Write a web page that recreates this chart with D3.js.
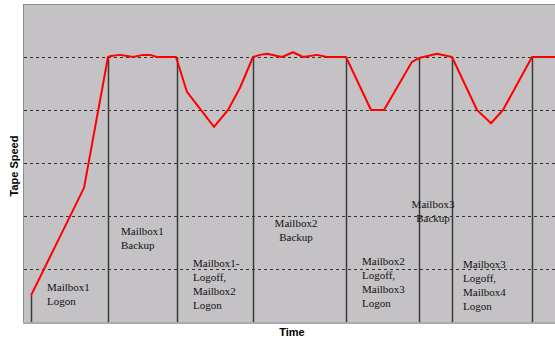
<!DOCTYPE html>
<html>
<head>
<meta charset="utf-8">
<script src="https://cdn.jsdelivr.net/npm/d3@7"></script>
<style>
  body { margin: 0; background: #fff; }
  svg { display: block; }
</style>
</head>
<body>
<svg id="chart" width="555" height="341"></svg>
<script>
// tape speed trace (time units, speed units)
const times  = [8, 61, 85, 88, 97, 104, 110, 120, 127, 134, 153, 164, 191, 205, 217, 230, 237, 244, 259, 270, 280, 294, 304, 323, 348, 361, 389, 396, 414, 429, 454, 468, 480, 509, 532];
const speeds = [0.5, 2.53, 5.0, 5.02, 5.04, 5.02, 5.0, 5.04, 5.04, 5.0, 5.0, 4.34, 3.68, 4.0, 4.42, 5.0, 5.04, 5.06, 5.0, 5.09, 5.0, 5.04, 5.0, 5.0, 4.0, 4.0, 4.91, 4.98, 5.06, 5.0, 4.0, 3.75, 4.0, 5.0, 5.0];

// event markers (time, speed where the marker meets the trace)
const eventTimes  = [8, 85, 154, 230, 323, 396, 429, 509];
const eventSpeeds = [0.5, 5, 5, 5, 5, 4.98, 5, 5];

// horizontal grid levels
const gridLevels = [1, 2, 3, 4, 5];

// annotations: time, speed of first baseline, anchor, lines
const labelTimes  = [24, 98, 170, 273, 339, 410, 440];
const labelSpeeds = [0.58, 1.64, 1.04, 1.79, 1.07, 2.15, 1.02];
const labelAnchors = ["start", "start", "start", "middle", "start", "middle", "start"];
const labelLines = [
  ["Mailbox1", "Logon"],
  ["Mailbox1", "Backup"],
  ["Mailbox1-", "Logoff,", "Mailbox2", "Logon"],
  ["Mailbox2", "Backup"],
  ["Mailbox2", "Logoff,", "Mailbox3", "Logon"],
  ["Mailbox3", "Backup"],
  ["Mailbox3", "Logoff,", "Mailbox4", "Logon"]
];

const svg = d3.select("#chart");
const plotLeft = 23, plotTop = 4, plotRight = 555, plotBottom = 322;

let x = d3.scaleLinear().domain([0, 532]).range([plotLeft, plotRight]);
let y = d3.scaleLinear().domain([0, 6]).range([plotBottom, plotTop]);

// plot background
svg.append("rect")
  .attr("x", plotLeft).attr("y", plotTop)
  .attr("width", plotRight - plotLeft).attr("height", plotBottom - plotTop)
  .attr("fill", "#c4c2c5");

// borders
svg.append("line").attr("x1", plotLeft + 0.5).attr("x2", plotLeft + 0.5).attr("y1", plotTop).attr("y2", plotBottom)
  .attr("stroke", "#8c8c8c").attr("stroke-width", 1);
svg.append("line").attr("x1", plotLeft).attr("x2", plotRight).attr("y1", plotTop + 0.5).attr("y2", plotTop + 0.5)
  .attr("stroke", "#8c8c8c").attr("stroke-width", 1);
svg.append("line").attr("x1", plotLeft).attr("x2", plotRight).attr("y1", plotBottom + 1).attr("y2", plotBottom + 1)
  .attr("stroke", "#a9a9a9").attr("stroke-width", 2);

// dashed grid
svg.append("g").selectAll("line").data(gridLevels).enter().append("line")
  .attr("x1", plotLeft + 1).attr("x2", plotRight)
  .attr("y1", d => Math.round(y(d)) + 0.5)
  .attr("y2", d => Math.round(y(d)) + 0.5)
  .attr("stroke", "#333")
  .attr("stroke-dasharray", "3,3");

// event lines, from the trace down to the floor
svg.append("g").selectAll("line").data(eventTimes).enter().append("line")
  .attr("x1", d => Math.round(x(d)) + 0.5)
  .attr("x2", d => Math.round(x(d)) + 0.5)
  .attr("y1", (d, i) => y(eventSpeeds[i]))
  .attr("y2", plotBottom)
  .attr("stroke", "#3a3a3a")
  .attr("stroke-width", 1.5);

// tape speed line
let points = times.map((t, i) => [t, speeds[i]]);
let line = d3.line().x(d => x(d[0])).y(d => y(d[1]));
svg.append("path")
  .datum(points)
  .attr("d", line)
  .attr("fill", "none")
  .attr("stroke", "#ff0000")
  .attr("stroke-width", 2)
  .attr("stroke-linejoin", "round");

// annotations
labelLines.forEach(function (lines, i) {
  let t = svg.append("text")
    .attr("x", x(labelTimes[i]))
    .attr("y", y(labelSpeeds[i]))
    .attr("text-anchor", labelAnchors[i])
    .style("font-family", "'Liberation Serif', 'DejaVu Serif', serif")
    .style("font-size", "11px")
    .attr("fill", "#111");
  lines.forEach(function (s, j) {
    t.append("tspan")
      .attr("x", x(labelTimes[i]))
      .attr("dy", j == 0 ? 0 : 14)
      .text(s);
  });
});

// axis titles
svg.append("text")
  .attr("transform", "translate(18," + 166 + ") rotate(-90)")
  .attr("text-anchor", "middle")
  .style("font-family", "'Liberation Sans', Arial, sans-serif")
  .style("font-size", "11px")
  .style("font-weight", "bold")
  .text("Tape Speed");

svg.append("text")
  .attr("x", 292)
  .attr("y", 336)
  .attr("text-anchor", "middle")
  .style("font-family", "'Liberation Sans', Arial, sans-serif")
  .style("font-size", "11px")
  .style("font-weight", "bold")
  .text("Time");
</script>
</body>
</html>
